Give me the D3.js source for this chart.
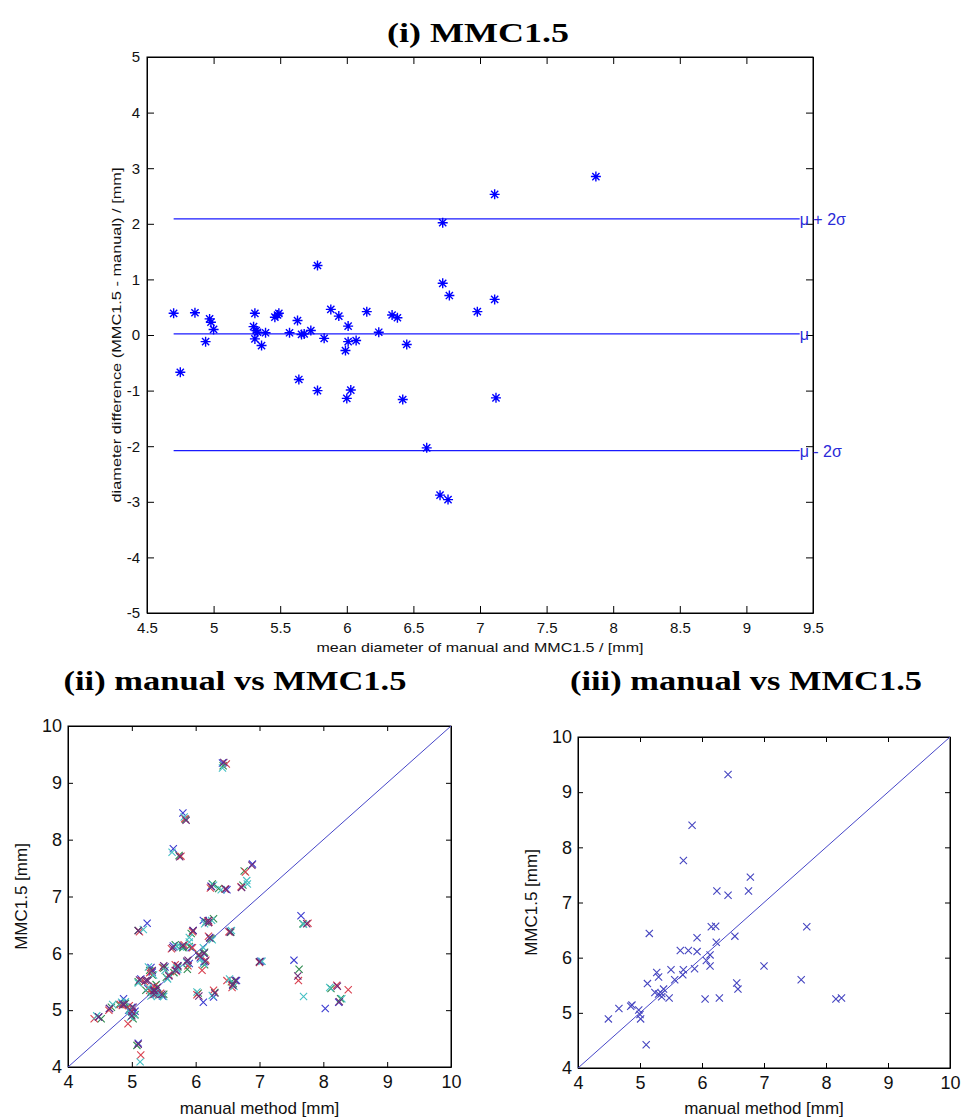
<!DOCTYPE html>
<html><head><meta charset="utf-8">
<script src="https://cdn.jsdelivr.net/npm/d3@7"></script>
<style>body{margin:0;background:#fff}svg{display:block}</style>
</head><body><svg id="c" width="961" height="1120"></svg>
<script>
// ---------- data ----------
const titles = ["(i) MMC1.5", "(ii) manual vs MMC1.5", "(iii) manual vs MMC1.5"];
const baXTicks = [4.5,5,5.5,6,6.5,7,7.5,8,8.5,9,9.5];
const baYTicks = [-5,-4,-3,-2,-1,0,1,2,3,4,5];
const sqTicks = [4,5,6,7,8,9,10];
// Bland-Altman: mean diameter, difference
const baMean = [4.70,4.75,4.86,4.94,4.97,4.98,5.00,5.30,5.31,5.31,5.32,5.33,5.36,5.39,5.46,5.48,5.49,5.57,5.63,5.64,5.66,5.68,5.73,5.78,5.78,5.83,5.88,5.94,5.99,6.00,6.01,6.01,6.03,6.07,6.15,6.24,6.34,6.38,6.42,6.45,6.60,6.70,6.76,6.72,6.72,6.77,6.98,7.11,7.11,7.12,7.87];
const baDiff = [0.39,-0.67,0.40,-0.12,0.29,0.23,0.10,0.15,0.39,-0.07,0.08,0.05,-0.19,0.04,0.32,0.36,0.39,0.04,0.26,-0.80,0.01,0.02,0.08,1.25,-1.00,-0.06,0.46,0.34,-0.28,-1.14,0.16,-0.12,-0.99,-0.10,0.42,0.05,0.36,0.31,-1.16,-0.17,-2.03,-2.88,-2.96,2.02,0.93,0.71,0.42,2.53,0.64,-1.13,2.85];
const limitNames = ["μ + 2σ", "μ", "μ - 2σ"];
const limitValues = [2.09, 0.02, -2.08];
const limitRange = [4.70, 9.40];
// (iii) manual vs MMC1.5
const manualIII = [6.42,5.84,5.70,6.78,6.75,6.24,6.42,7.69,6.15,6.22,5.15,6.53,5.92,6.23,5.65,5.78,5.92,6.13,6.07,6.13,7.00,5.70,5.88,5.50,5.27,5.30,5.69,5.56,7.60,5.12,6.56,6.58,5.38,5.24,5.30,5.35,5.35,5.47,6.05,6.28,8.16,8.25,4.87,4.85,4.66,4.98,4.49,5.01,5.10,5.00];
const mmcIII =    [9.32,8.40,7.76,7.46,7.21,7.21,7.13,6.56,6.56,6.57,6.44,6.39,6.36,6.28,6.13,6.13,6.11,6.05,5.95,5.85,5.85,5.78,5.80,5.78,5.73,5.65,5.69,5.60,5.60,5.53,5.54,5.43,5.43,5.37,5.34,5.35,5.29,5.27,5.25,5.27,5.25,5.27,5.14,5.12,5.08,5.05,4.89,4.89,4.42,4.97];
// (ii) repeated runs, [manual, MMC1.5]
const runBlue = [[6.42,9.35],[5.80,8.47],[5.65,7.84],[6.89,7.57],[6.49,7.12],[6.24,7.18],[7.65,6.66],[6.12,6.58],[5.24,6.53],[6.54,6.39],[5.96,6.40],[6.22,6.28],[5.65,6.13],[5.80,6.12],[5.93,6.10],[6.13,6.00],[6.07,5.92],[6.13,5.85],[7.02,5.86],[5.72,5.78],[5.90,5.82],[5.52,5.76],[5.30,5.75],[5.32,5.67],[5.70,5.70],[5.58,5.62],[7.54,5.88],[5.14,5.55],[6.64,5.52],[6.58,5.45],[5.40,5.40],[5.25,5.38],[5.32,5.33],[5.36,5.36],[5.38,5.28],[5.48,5.25],[6.12,5.14],[6.28,5.23],[8.03,5.03],[8.24,5.14],[4.87,5.20],[4.85,5.12],[4.65,5.03],[5.00,5.05],[4.48,4.88],[5.05,4.98],[5.10,4.42],[4.95,5.00]];
const runGreen = [[6.43,9.30],[5.84,8.36],[5.74,7.72],[6.76,7.45],[6.74,7.20],[6.26,7.22],[6.36,7.14],[7.68,6.52],[6.28,6.61],[6.16,6.55],[5.10,6.40],[6.55,6.37],[5.93,6.35],[6.24,6.26],[5.68,6.15],[5.80,6.10],[5.90,6.12],[6.14,6.02],[6.05,5.98],[6.14,5.80],[7.00,5.85],[5.72,5.76],[5.87,5.72],[5.50,5.74],[5.28,5.70],[5.32,5.62],[5.66,5.66],[5.54,5.58],[7.62,5.72],[5.10,5.50],[6.59,5.47],[6.56,5.50],[5.38,5.45],[5.22,5.35],[5.30,5.32],[5.34,5.36],[5.36,5.30],[5.50,5.28],[6.04,5.30],[6.30,5.31],[8.12,5.38],[8.27,5.20],[4.90,5.12],[4.80,5.10],[4.68,5.05],[5.05,4.92],[4.52,4.85],[5.02,4.85],[5.08,4.38],[4.97,5.02]];
const runRed = [[6.48,9.33],[5.83,8.37],[5.77,7.71],[6.78,7.43],[6.71,7.17],[6.23,7.15],[6.46,7.13],[7.76,6.53],[6.19,6.57],[6.21,6.55],[5.12,6.38],[6.52,6.38],[5.95,6.38],[6.20,6.30],[5.62,6.08],[5.82,6.15],[5.95,6.10],[6.10,5.70],[6.08,5.95],[6.16,5.88],[7.00,5.84],[5.68,5.80],[5.88,5.78],[5.48,5.75],[5.30,5.68],[5.28,5.66],[5.70,5.68],[5.58,5.62],[7.61,5.52],[5.15,5.52],[6.49,5.52],[6.57,5.40],[5.35,5.42],[5.20,5.50],[5.28,5.35],[5.38,5.38],[5.33,5.27],[5.45,5.30],[6.02,5.27],[6.28,5.35],[8.21,5.44],[8.39,5.36],[4.85,5.08],[4.82,5.10],[4.64,5.00],[4.96,5.08],[4.41,4.85],[4.94,4.76],[5.14,4.21],[5.00,4.98]];
const runCyan = [[6.42,9.26],[5.82,8.40],[5.63,7.78],[6.80,7.28],[6.81,7.22],[6.28,7.20],[6.40,7.12],[7.69,6.51],[6.14,6.52],[6.25,6.58],[5.18,6.42],[6.56,6.40],[5.90,6.28],[6.26,6.24],[5.70,6.12],[5.76,6.11],[5.90,6.20],[6.12,6.10],[6.08,5.90],[6.12,5.82],[7.04,5.86],[5.70,5.74],[5.86,5.84],[5.52,5.70],[5.26,5.76],[5.34,5.62],[5.72,5.72],[5.56,5.55],[7.69,5.24],[5.10,5.48],[6.53,5.55],[6.60,5.42],[5.40,5.30],[5.26,5.40],[5.30,5.25],[5.36,5.32],[5.40,5.24],[5.50,5.24],[6.02,5.32],[6.26,5.26],[8.10,5.40],[8.29,5.20],[4.90,5.15],[4.84,5.14],[4.70,5.10],[4.98,4.88],[4.45,4.90],[5.04,4.92],[5.13,4.09],[4.96,5.00]];
const runPurple = [[6.44,9.36],[5.85,8.34],[5.75,7.70],[6.88,7.55],[6.72,7.16],[6.25,7.17],[6.47,7.13],[7.74,6.52],[6.20,6.54],[6.20,6.58],[5.10,6.40],[6.54,6.37],[5.96,6.40],[6.22,6.27],[5.64,6.10],[5.80,6.14],[5.88,5.88],[6.13,6.00],[6.05,5.96],[6.15,5.86],[7.00,5.85],[5.72,5.78],[5.86,5.86],[5.50,5.78],[5.25,5.52],[5.32,5.70],[5.68,5.70],[5.58,5.60],[7.60,5.60],[5.12,5.53],[6.62,5.52],[6.58,5.44],[5.40,5.40],[5.22,5.52],[5.34,5.34],[5.36,5.34],[5.35,5.28],[5.47,5.28],[6.05,5.25],[6.30,5.30],[8.22,5.42],[8.25,5.15],[4.88,5.10],[4.86,5.10],[4.65,5.03],[5.02,5.05],[4.48,4.88],[5.00,4.90],[5.10,4.40],[5.00,4.97]];
const runs = [runBlue, runGreen, runRed, runCyan, runPurple];
const runColors = ["#3b3bd0", "#2e8b4e", "#d9404f", "#45c0c4", "#6a2a78"];

// ---------- drawing ----------
const svg = d3.select("#c");
const FONT = "'Liberation Sans', Arial, sans-serif";
const SERIF = "'Liberation Serif', 'DejaVu Serif', serif";
const fmt = d => String(d);

function title(txt, cx, y, len) {
  svg.append("text").attr("x", cx).attr("y", y).attr("text-anchor", "middle")
    .attr("font-family", SERIF).attr("font-weight", "bold").attr("font-size", 28)
    .attr("textLength", len).attr("lengthAdjust", "spacingAndGlyphs")
    .attr("fill", "#000").text(txt);
}

function frame(x, y, xt, yt, tick, fs, padX, padY) {
  const [x0, x1] = x.range(), [y0, y1] = y.range();
  const g = svg.append("g");
  g.append("g").attr("transform", `translate(0,${y0})`)
    .call(d3.axisBottom(x).tickValues(xt).tickFormat(fmt).tickSizeInner(-tick).tickSizeOuter(0).tickPadding(padX));
  g.append("g").attr("transform", `translate(0,${y1})`)
    .call(d3.axisTop(x).tickValues(xt).tickFormat("").tickSizeInner(-tick).tickSizeOuter(0));
  g.append("g").attr("transform", `translate(${x0},0)`)
    .call(d3.axisLeft(y).tickValues(yt).tickFormat(fmt).tickSizeInner(-tick).tickSizeOuter(0).tickPadding(padY));
  g.append("g").attr("transform", `translate(${x1},0)`)
    .call(d3.axisRight(y).tickValues(yt).tickFormat("").tickSizeInner(-tick).tickSizeOuter(0));
  g.selectAll(".domain").attr("stroke", "#000");
  g.selectAll(".tick line").attr("stroke", "#000");
  g.selectAll("text").attr("font-family", FONT).attr("font-size", fs).attr("fill", "#111");
  g.append("rect").attr("x", x0).attr("y", y1).attr("width", x1 - x0).attr("height", y0 - y1)
    .attr("fill", "none").attr("stroke", "#000");
  return g;
}

// (i) Bland-Altman
title(titles[0], 478, 42, 182);
const bx = d3.scaleLinear().domain([4.5, 9.5]).range([147, 813]);
const by = d3.scaleLinear().domain([-5, 5]).range([613, 57]);
frame(bx, by, baXTicks, baYTicks, 7, 15, 9, 7);
const lim = svg.append("g");
limitValues.forEach((v, i) => {
  lim.append("line").attr("x1", bx(limitRange[0])).attr("x2", bx(limitRange[1]))
    .attr("y1", by(v)).attr("y2", by(v)).attr("stroke", "#1a1aff").attr("stroke-width", 1.2);
  lim.append("text").attr("x", bx(limitRange[1])).attr("y", by(v) + 6)
    .attr("font-family", FONT).attr("font-size", 16).attr("fill", "#2a2ad8").text(limitNames[i]);
});
const star = "M-5,0H5M0,-5V5M-3.6,-3.6L3.6,3.6M-3.6,3.6L3.6,-3.6";
svg.append("g").selectAll("path").data(baMean.map((m, i) => [m, baDiff[i]])).join("path")
  .attr("transform", d => `translate(${bx(d[0])},${by(d[1])})`)
  .attr("d", star).attr("stroke", "#0000ff").attr("stroke-width", 1.4).attr("fill", "none");
svg.append("text").attr("x", 480).attr("y", 652).attr("text-anchor", "middle")
  .attr("font-family", FONT).attr("font-size", 13).attr("textLength", 327).attr("lengthAdjust", "spacingAndGlyphs")
  .attr("fill", "#111").text("mean diameter of manual and MMC1.5 / [mm]");
svg.append("text").attr("transform", "translate(121,335) rotate(-90)").attr("text-anchor", "middle")
  .attr("font-family", FONT).attr("font-size", 13).attr("textLength", 335).attr("lengthAdjust", "spacingAndGlyphs")
  .attr("fill", "#111").text("diameter difference (MMC1.5 - manual) / [mm]");

const cross = "M-3.6,-3.6L3.6,3.6M-3.6,3.6L3.6,-3.6";
function scatterPanel(x, y, t, tcx, tlen, ylx, series) {
  title(t, tcx, 690, tlen);
  frame(x, y, sqTicks, sqTicks, 5, 18, 8, 6);
  svg.append("line").attr("x1", x(4)).attr("y1", y(4)).attr("x2", x(10)).attr("y2", y(10))
    .attr("stroke", "#4646c8").attr("stroke-width", 1);
  series.forEach(s => {
    svg.append("g").selectAll("path").data(s.data).join("path")
      .attr("transform", d => `translate(${x(d[0])},${y(d[1])})`)
      .attr("d", cross).attr("stroke", s.color).attr("stroke-width", 1.1).attr("fill", "none");
  });
  const [x0, x1] = x.range(), [y0, y1] = y.range();
  svg.append("text").attr("x", (x0 + x1) / 2).attr("y", 1114).attr("text-anchor", "middle")
    .attr("font-family", FONT).attr("font-size", 17).attr("fill", "#111").text("manual method [mm]");
  svg.append("text").attr("transform", `translate(${ylx},${(y0 + y1) / 2}) rotate(-90)`).attr("text-anchor", "middle")
    .attr("font-family", FONT).attr("font-size", 17).attr("fill", "#111").text("MMC1.5 [mm]");
}

const x2 = d3.scaleLinear().domain([4, 10]).range([68, 451]);
const y2 = d3.scaleLinear().domain([4, 10]).range([1067, 726]);
scatterPanel(x2, y2, titles[1], 235, 343, 27, runs.map((r, i) => ({data: r, color: runColors[i]})));

const x3 = d3.scaleLinear().domain([4, 10]).range([578, 950]);
const y3 = d3.scaleLinear().domain([4, 10]).range([1068, 737]);
scatterPanel(x3, y3, titles[2], 746, 352, 537, [{data: manualIII.map((m, i) => [m, mmcIII[i]]), color: "#4545c0"}]);
</script></body></html>
